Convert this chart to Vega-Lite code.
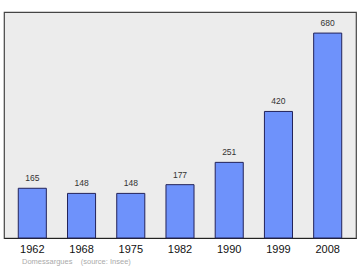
{
  "$schema": "https://vega.github.io/schema/vega-lite/v6.json",
  "autosize": "none",
  "width": 352,
  "height": 226,
  "padding": {"left": 4, "top": 12, "right": 4, "bottom": 32},
  "background": "white",
  "config": {
    "font": "Liberation Sans",
    "view": {"fill": "#ececec", "stroke": "#444444", "strokeWidth": 1.2}
  },
  "title": {
    "text": "Domessargues\u00a0\u00a0\u00a0\u00a0(source: Insee)",
    "orient": "bottom",
    "anchor": "start",
    "fontSize": 7.5,
    "fontWeight": "normal",
    "color": "#aaaaaa",
    "offset": 4,
    "dx": 18
  },
  "data": {
    "values": [
      {"year": "1962", "pop": 165},
      {"year": "1968", "pop": 148},
      {"year": "1975", "pop": 148},
      {"year": "1982", "pop": 177},
      {"year": "1990", "pop": 251},
      {"year": "1999", "pop": 420},
      {"year": "2008", "pop": 680}
    ]
  },
  "encoding": {
    "x": {
      "field": "year",
      "type": "ordinal",
      "scale": {"paddingInner": 0.43, "paddingOuter": 0.29},
      "axis": {
        "title": null,
        "labelAngle": 0,
        "ticks": false,
        "domain": true,
        "domainColor": "#222222",
        "domainWidth": 1.2,
        "labelFontSize": 11,
        "labelColor": "#111111",
        "labelPadding": 5
      }
    },
    "y": {
      "field": "pop",
      "type": "quantitative",
      "scale": {"domain": [0, 750]},
      "axis": null
    }
  },
  "layer": [
    {
      "mark": {"type": "bar", "fill": "#6e92fb", "stroke": "#23235a", "strokeWidth": 1, "cornerRadius": 0}
    },
    {
      "mark": {"type": "text", "dy": -10, "fontSize": 8.5, "color": "#333333"},
      "encoding": {"text": {"field": "pop", "type": "quantitative"}}
    }
  ]
}
